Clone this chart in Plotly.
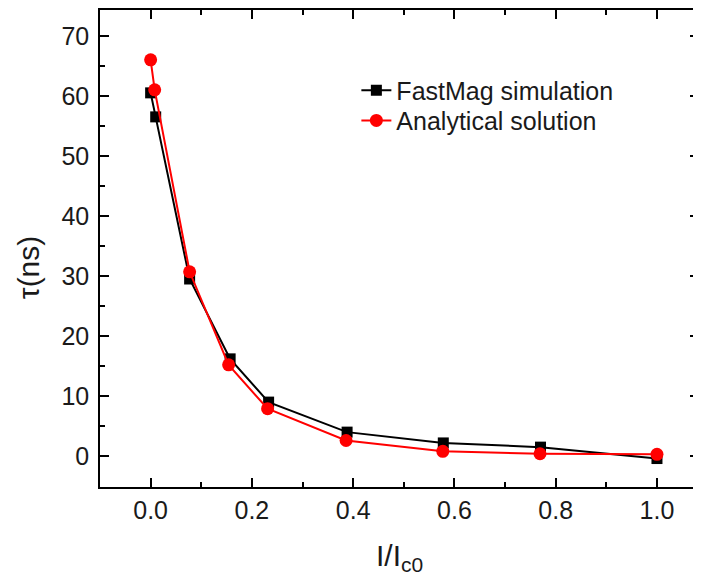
import plotly.graph_objects as go

# Data
x_sim = [0.0, 0.01, 0.077, 0.157, 0.233, 0.388, 0.578, 0.770, 1.0]
y_sim = [60.5, 56.5, 29.5, 16.2, 9.0, 4.0, 2.2, 1.5, -0.4]
x_ana = [0.0, 0.008, 0.077, 0.154, 0.231, 0.386, 0.577, 0.769, 1.0]
y_ana = [66.0, 61.0, 30.7, 15.2, 7.9, 2.6, 0.8, 0.4, 0.3]

series_names = ["FastMag simulation", "Analytical solution"]
x_tick_vals = [0.0, 0.2, 0.4, 0.6, 0.8, 1.0]
x_tick_text = ["0.0", "0.2", "0.4", "0.6", "0.8", "1.0"]
y_tick_vals = [0, 10, 20, 30, 40, 50, 60, 70]

FONT = "Liberation Sans, Arial, sans-serif"

fig = go.Figure()
fig.add_trace(go.Scatter(
    x=x_sim, y=y_sim, mode="lines+markers", name=series_names[0],
    line=dict(color="black", width=2),
    marker=dict(symbol="square", size=11, color="black"),
    legend="legend",
))
fig.add_trace(go.Scatter(
    x=x_ana, y=y_ana, mode="lines+markers", name=series_names[1],
    line=dict(color="#ff0000", width=2),
    marker=dict(symbol="circle", size=13, color="#ff0000"),
    legend="legend2",
))

axis_common = dict(
    showgrid=False, zeroline=False, showline=True, linecolor="black", linewidth=1.5,
    mirror="allticks", ticks="inside", ticklen=9, tickwidth=1.5, tickcolor="black",
    tickfont=dict(family=FONT, size=25, color="#1a1a1a"),
)

fig.update_xaxes(
    range=[-0.1, 1.083], tickvals=x_tick_vals, ticktext=x_tick_text,
    minor=dict(ticks="inside", ticklen=5, tickwidth=1.5, tickcolor="black", dtick=0.1, tick0=0),
    **axis_common,
)
fig.update_yaxes(
    range=[-5.14, 74.3], tickvals=y_tick_vals, ticklabelstandoff=4,
    minor=dict(ticks="inside", ticklen=5, tickwidth=1.5, tickcolor="black", dtick=5, tick0=0),
    **axis_common,
)

legend_common = dict(
    xanchor="left", yanchor="middle",
    font=dict(family=FONT, size=25, color="#1a1a1a"),
    bgcolor="rgba(0,0,0,0)", itemwidth=30,
)

fig.update_layout(
    width=693, height=580,
    margin=dict(l=92, r=1, t=0, b=101),
    paper_bgcolor="white", plot_bgcolor="white",
    showlegend=True,
    legend=dict(x=0.428, y=0.831, **legend_common),
    legend2=dict(x=0.428, y=0.768, **legend_common),
    annotations=[
        dict(text="I/I<sub>c0</sub>", x=0.5, xref="paper", y=-0.148, yref="paper",
             xanchor="center", yanchor="middle", showarrow=False,
             font=dict(family=FONT, size=30, color="#1a1a1a")),
        dict(text="τ(ns)", x=-0.12, xref="paper", y=0.461, yref="paper",
             xanchor="center", yanchor="middle", showarrow=False, textangle=-90,
             font=dict(family=FONT, size=30, color="#1a1a1a")),
    ],
)

fig.write_html("out.html")
